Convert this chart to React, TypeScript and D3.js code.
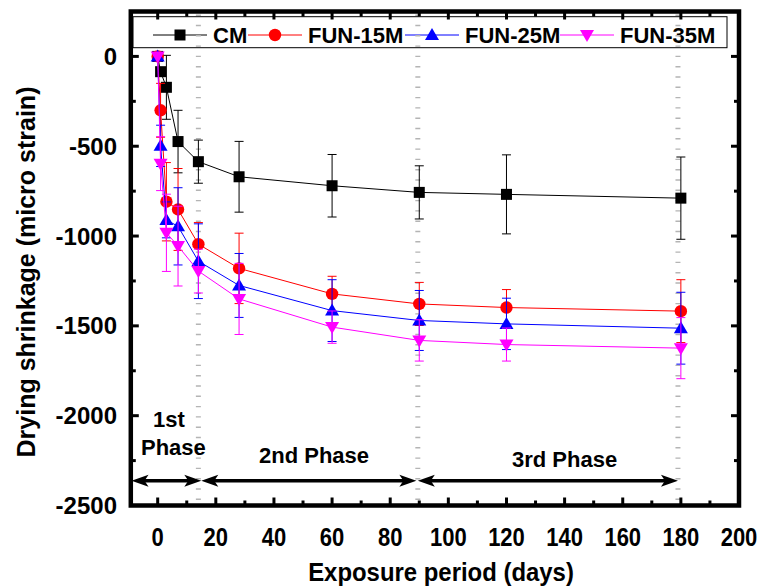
import React from 'react';
import * as d3 from 'd3';

const days = [0, 1, 3, 7, 14, 28, 60, 90, 120, 180];
const seriesNames = ['CM', 'FUN-15M', 'FUN-25M', 'FUN-35M'];
const cmValues = [0, -85, -172, -474, -586, -670, -720, -757, -768, -789];
const cmErrors = [0, 20, 178, 174, 120, 197, 174, 148, 220, 229];
const fun15Values = [0, -300, -809, -852, -1045, -1180, -1322, -1378, -1398, -1418];
const fun15Errors = [0, 150, 218, 228, 120, 196, 98, 120, 100, 175];
const fun25Values = [0, -498, -910, -946, -1140, -1275, -1415, -1470, -1489, -1513];
const fun25Errors = [0, 115, 100, 215, 208, 178, 172, 167, 143, 200];
const fun35Values = [0, -597, -982, -1056, -1195, -1350, -1507, -1581, -1604, -1624];
const fun35Errors = [0, 150, 215, 222, 122, 198, 90, 115, 92, 170];

const xTicks = [0, 20, 40, 60, 80, 100, 120, 140, 160, 180, 200];
const yTicks = [0, -500, -1000, -1500, -2000, -2500];
const phaseLines = [14, 89.5, 179];
const phaseArrows: [number, number][] = [[-9, 15], [15, 89], [89.5, 179]];
const phaseArrowLevel = -2362;
const phaseLabels = [
  { text: '1st', x: 3.9, y: -2062 },
  { text: 'Phase', x: 5.4, y: -2219 },
  { text: '2nd Phase', x: 53.8, y: -2264 },
  { text: '3rd Phase', x: 140, y: -2285 },
];

const colors = ['#000000', '#ff0000', '#0000ff', '#ff00ff'];
const shapes = ['square', 'circle', 'up', 'down'];

const W = 762;
const H = 588;
const FONT = '"Liberation Sans", Arial, sans-serif';

function Marker({ shape, x, y, color }: { shape: string; x: number; y: number; color: string }) {
  if (shape === 'square') return <rect x={x - 5.5} y={y - 5.5} width={11} height={11} fill={color} />;
  if (shape === 'circle') return <circle cx={x} cy={y} r={6.2} fill={color} />;
  if (shape === 'up') return <path d={`M${x},${y - 7}L${x + 7},${y + 5}L${x - 7},${y + 5}Z`} fill={color} />;
  return <path d={`M${x},${y + 7}L${x + 7},${y - 5}L${x - 7},${y - 5}Z`} fill={color} />;
}

export default function App() {
  const x = d3.scaleLinear().domain([-9.25, 200]).range([130.8, 739]);
  const y = d3.scaleLinear().domain([-2500, 250]).range([505.5, 11.5]);
  const left = x(-9.25), right = x(200), top = y(250), bottom = y(-2500);

  const values = [cmValues, fun15Values, fun25Values, fun35Values];
  const errors = [cmErrors, fun15Errors, fun25Errors, fun35Errors];
  const line = d3.line<number>().x((_, i) => x(days[i])).y((d) => y(d));

  const xMinor = d3.range(10, 200, 20);
  const yMinor = d3.range(-250, -2500, -500);

  const legendX = [153, 248, 405, 560];

  const arrowHead = (tipX: number, tipY: number, dir: number) => {
    const L = 17, hw = 6;
    return `M${tipX},${tipY}L${tipX - dir * L},${tipY - hw}L${tipX - dir * (L - 4)},${tipY}L${tipX - dir * L},${tipY + hw}Z`;
  };

  return (
    <svg width={W} height={H} style={{ position: 'absolute', left: 0, top: 0, display: 'block', background: '#fff' }} fontFamily={FONT}>
      <rect x={0} y={0} width={W} height={H} fill="#fff" />

      <rect x={133} y={16.7} width={594} height={31} fill="#fff" stroke="#000" strokeWidth={1} />
      {seriesNames.map((name, i) => (
        <g key={name}>
          <line x1={legendX[i]} x2={legendX[i] + 54} y1={35} y2={35} stroke={colors[i]} strokeWidth={1} />
          <Marker shape={shapes[i]} x={legendX[i] + 27} y={35} color={colors[i]} />
          <text x={legendX[i] + 60} y={43.3} fontSize={22} fontWeight="bold" fill="#000">{name}</text>
        </g>
      ))}

      {phaseLines.map((d) => (
        <line key={d} x1={x(d)} x2={x(d)} y1={top + 3} y2={bottom - 3} stroke="#b4b4b4" strokeWidth={5} strokeDasharray="1.4 8.9" />
      ))}

      {values.map((vals, si) => (
        <g key={si}>
          <path d={line(vals) || ''} fill="none" stroke={colors[si]} strokeWidth={1} />
          {vals.map((v, i) => {
            const e = errors[si][i];
            if (!e) return null;
            const cx = x(days[i]);
            return (
              <g key={i} stroke={colors[si]} strokeWidth={1}>
                <line x1={cx} x2={cx} y1={y(v + e)} y2={y(v - e)} />
                <line x1={cx - 4.5} x2={cx + 4.5} y1={y(v + e)} y2={y(v + e)} />
                <line x1={cx - 4.5} x2={cx + 4.5} y1={y(v - e)} y2={y(v - e)} />
              </g>
            );
          })}
          {vals.map((v, i) => (
            <Marker key={i} shape={shapes[si]} x={x(days[i])} y={y(v)} color={colors[si]} />
          ))}
        </g>
      ))}

      {phaseArrows.map(([a, b], i) => {
        const ay = y(phaseArrowLevel);
        return (
          <g key={i}>
            <line x1={x(a) + 8} x2={x(b) - 8} y1={ay} y2={ay} stroke="#000" strokeWidth={3.5} />
            <path d={arrowHead(x(a), ay, -1)} fill="#000" />
            <path d={arrowHead(x(b), ay, 1)} fill="#000" />
          </g>
        );
      })}
      {phaseLabels.map((p, i) => (
        <text key={i} x={x(p.x)} y={y(p.y)} fontSize={22} fontWeight="bold" textAnchor="middle">{p.text}</text>
      ))}

      <rect x={left} y={top} width={right - left} height={bottom - top} fill="none" stroke="#000" strokeWidth={4.5} />

      <g stroke="#000" strokeWidth={3}>
        {xTicks.map((t) => (
          <g key={t}>
            <line x1={x(t)} x2={x(t)} y1={bottom} y2={bottom - 8} />
            <line x1={x(t)} x2={x(t)} y1={top} y2={top + 8} />
          </g>
        ))}
        {xMinor.map((t) => (
          <g key={t}>
            <line x1={x(t)} x2={x(t)} y1={bottom} y2={bottom - 5} />
            <line x1={x(t)} x2={x(t)} y1={top} y2={top + 5} />
          </g>
        ))}
        {yTicks.map((t) => (
          <g key={t}>
            <line x1={left} x2={left + 8} y1={y(t)} y2={y(t)} />
            <line x1={right} x2={right - 8} y1={y(t)} y2={y(t)} />
          </g>
        ))}
        {yMinor.map((t) => (
          <g key={t}>
            <line x1={left} x2={left + 5} y1={y(t)} y2={y(t)} />
            <line x1={right} x2={right - 5} y1={y(t)} y2={y(t)} />
          </g>
        ))}
      </g>

      {xTicks.map((t) => (
        <text key={t} transform={`translate(${x(t)},546) scale(0.88,1)`} fontSize={25} fontWeight="bold" textAnchor="middle">{t}</text>
      ))}
      {yTicks.map((t) => (
        <text key={t} x={117} y={y(t) + 8.5} fontSize={24} fontWeight="bold" textAnchor="end">{t}</text>
      ))}

      <text transform={`translate(441,581) scale(0.92,1)`} fontSize={26} fontWeight="bold" textAnchor="middle">Exposure period (days)</text>
      <text transform={`translate(35,272) rotate(-90)`} fontSize={25} fontWeight="bold" textAnchor="middle">Drying shrinkage (micro strain)</text>
    </svg>
  );
}
